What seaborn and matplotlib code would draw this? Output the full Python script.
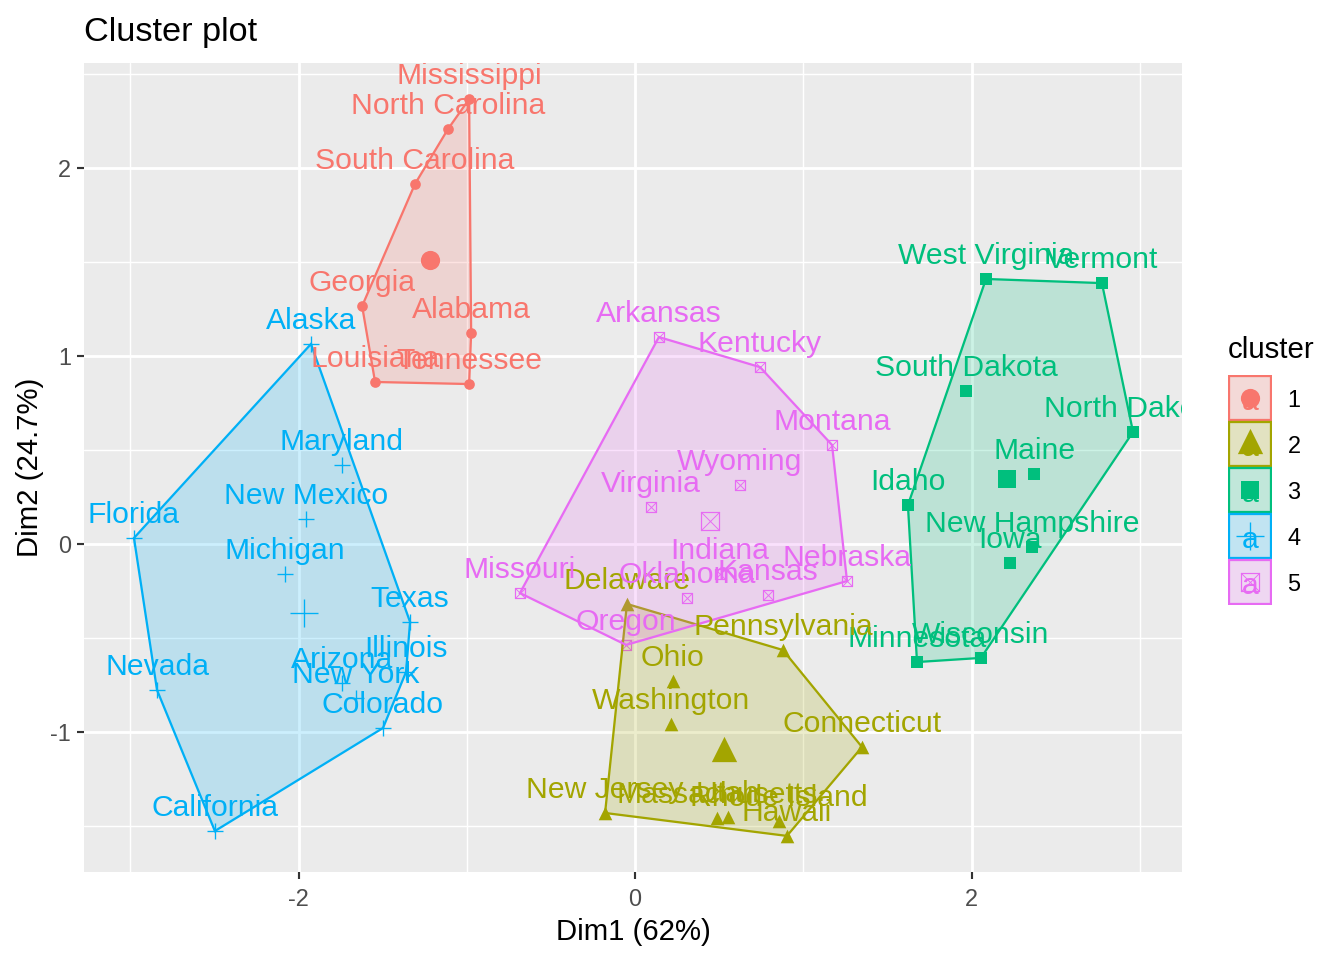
import numpy as np
import pandas as pd
import matplotlib
matplotlib.use("Agg")
import matplotlib.pyplot as plt
import seaborn as sns
from matplotlib.patches import Polygon, Rectangle

states_1 = ['Mississippi', 'North Carolina', 'South Carolina', 'Georgia', 'Alabama', 'Louisiana', 'Tennessee']
dim1_1 = [-0.986, -1.112, -1.308, -1.622, -0.974, -1.545, -0.986]
dim2_1 = [2.367, 2.207, 1.915, 1.266, 1.122, 0.862, 0.851]

states_2 = ['Delaware', 'Pennsylvania', 'Connecticut', 'Ohio', 'Washington', 'New Jersey',
            'Massachusetts', 'Utah', 'Rhode Island', 'Hawaii']
dim1_2 = [-0.048, 0.879, 1.349, 0.225, 0.214, -0.178, 0.488, 0.553, 0.856, 0.903]
dim2_2 = [-0.319, -0.564, -1.080, -0.729, -0.957, -1.431, -1.457, -1.452, -1.473, -1.553]

states_3 = ['West Virginia', 'Vermont', 'South Dakota', 'North Dakota', 'Maine', 'Idaho',
            'New Hampshire', 'Iowa', 'Minnesota', 'Wisconsin']
dim1_3 = [2.086, 2.775, 1.967, 2.960, 2.372, 1.622, 2.360, 2.228, 1.676, 2.056]
dim2_3 = [1.410, 1.388, 0.814, 0.596, 0.372, 0.207, -0.016, -0.101, -0.628, -0.606]

states_4 = ['Alaska', 'Florida', 'New Mexico', 'Maryland', 'Michigan', 'Texas', 'Illinois',
            'Arizona', 'New York', 'Colorado', 'Nevada', 'California']
dim1_4 = [-1.926, -2.978, -1.956, -1.742, -2.080, -1.337, -1.361, -1.742, -1.658, -1.498, -2.841, -2.497]
dim2_4 = [1.064, 0.032, 0.133, 0.420, -0.160, -0.415, -0.681, -0.739, -0.819, -0.979, -0.777, -1.527]

states_5 = ['Arkansas', 'Kentucky', 'Montana', 'Wyoming', 'Virginia', 'Indiana', 'Nebraska',
            'Kansas', 'Oklahoma', 'Missouri', 'Oregon']
dim1_5 = [0.142, 0.743, 1.171, 0.624, 0.095, 0.505, 1.260, 0.790, 0.309, -0.684, -0.053]
dim2_5 = [1.101, 0.941, 0.527, 0.314, 0.197, -0.160, -0.197, -0.271, -0.287, -0.261, -0.537]

center_dim1 = [-1.219, 0.529, 2.211, -1.967, 0.446]
center_dim2 = [1.511, -1.090, 0.346, -0.367, 0.122]

clusters = ['1', '2', '3', '4', '5']
colors = ['#F8766D', '#A3A500', '#00BF7D', '#00B0F6', '#E76BF3']


def build_frame():
    parts = []
    groups = [(states_1, dim1_1, dim2_1), (states_2, dim1_2, dim2_2), (states_3, dim1_3, dim2_3),
              (states_4, dim1_4, dim2_4), (states_5, dim1_5, dim2_5)]
    for name, (st, d1, d2) in zip(clusters, groups):
        parts.append(pd.DataFrame({'state': st, 'Dim1': d1, 'Dim2': d2, 'cluster': name}))
    return pd.concat(parts, ignore_index=True)


def convex_hull(points):
    pts = sorted(map(tuple, points))

    def half(seq):
        out = []
        for p in seq:
            while len(out) >= 2:
                a, b = out[-2], out[-1]
                if (b[0] - a[0]) * (p[1] - a[1]) - (b[1] - a[1]) * (p[0] - a[0]) <= 0:
                    out.pop()
                else:
                    break
            out.append(p)
        return out[:-1]

    return half(pts) + half(pts[::-1])


def draw_marks(ax, x, y, idx, big=False):
    # marker shapes follow the R pch codes 16, 17, 15, 3, 7
    c = colors[idx]
    if idx == 0:
        sns.scatterplot(x=x, y=y, ax=ax, marker='o', color=c, s=52 if big else 16, linewidth=0, zorder=3)
    elif idx == 1:
        sns.scatterplot(x=x, y=y, ax=ax, marker='^', color=c, s=90 if big else 26, linewidth=0, zorder=3)
    elif idx == 2:
        sns.scatterplot(x=x, y=y, ax=ax, marker='s', color=c, s=50 if big else 18, linewidth=0, zorder=3)
    elif idx == 3:
        sns.scatterplot(x=x, y=y, ax=ax, marker='+', color=c, s=110 if big else 36, linewidth=0.5, zorder=3)
    else:
        size = 50 if big else 16
        sns.scatterplot(x=x, y=y, ax=ax, marker='s', facecolor='none', edgecolor=c, s=size, linewidth=0.45, zorder=3)
        sns.scatterplot(x=x, y=y, ax=ax, marker='x', color=c, s=size, linewidth=0.35, zorder=3)


sns.set_theme(style='darkgrid', rc={
    'axes.facecolor': '#EBEBEB',
    'grid.color': 'white',
    'axes.unicode_minus': False,
})
plt.rcParams['font.family'] = ['Liberation Sans', 'DejaVu Sans']

df = build_frame()

fig = plt.figure(figsize=(7, 5), dpi=192)
ax = fig.add_axes([84 / 1344, 88 / 960, 1098 / 1344, 809 / 960])

for i, name in enumerate(clusters):
    sub = df[df['cluster'] == name]
    draw_marks(ax, sub['Dim1'].values, sub['Dim2'].values, i)
    draw_marks(ax, [center_dim1[i]], [center_dim2[i]], i, big=True)

for i, name in enumerate(clusters):
    sub = df[df['cluster'] == name]
    hull = convex_hull(sub[['Dim1', 'Dim2']].values)
    ax.add_patch(Polygon(hull, closed=True, facecolor=matplotlib.colors.to_rgba(colors[i], 0.2),
                         edgecolor=colors[i], linewidth=0.85, zorder=4))

# labels go in row order of the original table, so alphabetical
for _, row in df.sort_values('state').iterrows():
    ax.annotate(row['state'], (row['Dim1'], row['Dim2']), xytext=(0, 5.6), textcoords='offset points',
                ha='center', va='baseline', fontsize=11.3, color=colors[int(row['cluster']) - 1],
                clip_on=True, zorder=5)

ax.set_xlim(-3.275, 3.251)
ax.set_ylim(-1.745, 2.559)
ax.set_xticks([-2, 0, 2])
ax.set_yticks([-1, 0, 1, 2])
ax.set_xticks([-3, -1, 1, 3], minor=True)
ax.set_yticks([-1.5, -0.5, 0.5, 1.5, 2.5], minor=True)
ax.grid(True, which='major', color='white', linewidth=1.07)
ax.grid(True, which='minor', color='white', linewidth=0.53)
ax.set_axisbelow(True)
ax.tick_params(which='major', length=2.75, width=0.8, color='#333333', labelcolor='#4D4D4D',
               labelsize=8.8, bottom=True, left=True)
ax.tick_params(axis='x', which='major', pad=3.2)
ax.tick_params(axis='y', which='major', pad=2.2)
ax.tick_params(which='minor', length=0)
for sp in ax.spines.values():
    sp.set_visible(False)

ax.set_xlabel('Dim1 (62%)', fontsize=11, color='black', labelpad=2.8)
ax.set_ylabel('Dim2 (24.7%)', fontsize=11, color='black', labelpad=2.3)
ax.set_title('Cluster plot', fontsize=12.85, color='black', loc='left', pad=8.4)

# legend built by hand, ggplot keys have the letter under the marker
leg = fig.add_axes([1228 / 1344, (960 - 605) / 960, 44 / 1344, 230 / 960])
leg.set_xlim(0, 1)
leg.set_ylim(5, 0)
leg.axis('off')
for i, name in enumerate(clusters):
    leg.add_patch(Rectangle((0.03, i + 0.03), 0.94, 0.94, facecolor='#F2F2F2', edgecolor='none'))
    leg.add_patch(Rectangle((0.03, i + 0.03), 0.94, 0.94, facecolor=matplotlib.colors.to_rgba(colors[i], 0.2),
                            edgecolor=colors[i], linewidth=0.85))
    leg.text(0.5, i + 0.59, 'a', ha='center', va='center', fontsize=11.3, color=colors[i])
    # the triangle sits a little above the key centre
    draw_marks(leg, [0.5], [i + (0.43 if i == 1 else 0.5)], i, big=True)
    leg.text(1.35, i + 0.56, name, ha='left', va='center', fontsize=8.8, color='black')
leg.set_xlim(0, 1)
leg.set_ylim(5, 0)
leg.set_xlabel('')
leg.set_ylabel('')
fig.text(1228 / 1344, 1 - 350 / 960, 'cluster', fontsize=11, color='black', ha='left', va='center')

fig.savefig('out.png', dpi=192)
